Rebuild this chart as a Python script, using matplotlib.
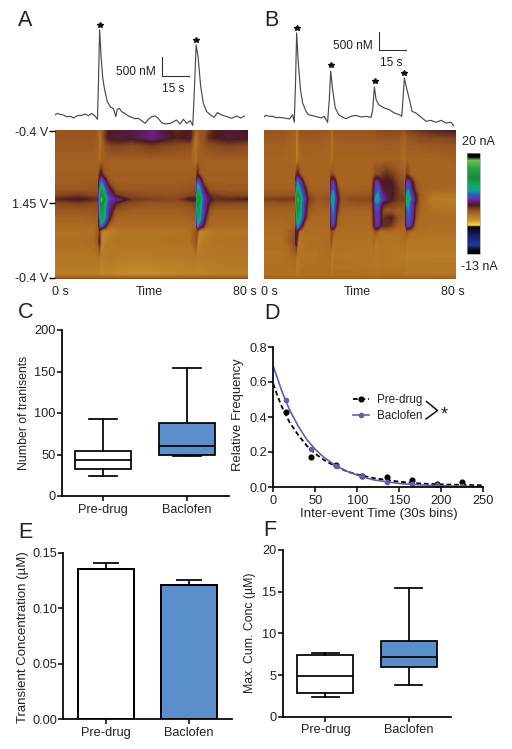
import numpy as np
import matplotlib
matplotlib.use('Agg')
import matplotlib.pyplot as plt
from matplotlib.colors import LinearSegmentedColormap, Normalize
from matplotlib.colorbar import ColorbarBase
from matplotlib.lines import Line2D

plt.rcParams['font.family'] = ['Liberation Sans', 'DejaVu Sans']
plt.rcParams['font.size'] = 9
plt.rcParams['text.color'] = '#222222'
plt.rcParams['axes.labelcolor'] = '#222222'
plt.rcParams['xtick.labelcolor'] = '#222222'
plt.rcParams['ytick.labelcolor'] = '#222222'

# dopamine traces (time in s, concentration in nM)
trace_a_t = [0, 1, 2.1, 3.5, 4.8, 6.5, 7.6, 9.3, 11.1, 12.4, 13.8, 15.2, 16.6, 17.6, 18, 18.5, 19.1, 19.8, 20.6, 21.7,
             23.1, 24.2, 25.2, 25.8, 26.7, 27.6, 29, 30.4, 31.8, 33.2, 34.5, 35.9, 37.3, 38.7, 40.1, 41.5, 42.8, 44.2,
             45.6, 47.7, 49.1, 50.4, 51.8, 53.2, 54.6, 56, 57.1, 57.6, 58.5, 59.3, 60.4, 61.5, 62.9, 64.5, 65.9, 67.3,
             69.1, 71.2, 73.2, 75.3, 77, 78.5]
trace_a_c = [53, 96, 70, 53, 9, 18, -26, 35, 44, 79, 35, 96, 26, -61, 886, 2289, 1587, 1017, 710, 403,
             254, 228, 9, 202, 228, 140, 96, 26, -9, -44, -35, -96, -167, -61, 9, 26, -35, -149,
             -184, -167, -123, -79, -184, -61, -167, -96, -219, 447, 1894, 1587, 798, 360, 140, 53, -9, 114,
             53, 9, -35, 26, -26, 26]
trace_b_t = [0, 0.8, 2.2, 3.6, 5, 6.4, 8.5, 10.6, 11.9, 12.6, 13.1, 13.6, 14.3, 15.2, 16.1, 17.5, 18.6, 20.3, 22.4, 23.8,
             25.1, 26.5, 27.2, 27.8, 28.6, 29.7, 31.1, 32.5, 34.2, 36.3, 38.3, 40.4, 42.5, 44.6, 45.3, 46, 46.7, 47.8,
             50.1, 52.2, 54.3, 56.4, 57.4, 57.9, 58.5, 59.4, 60.6, 61.7, 63.3, 65.4, 67.5, 69.6, 71.7, 73.8, 75.8, 77.9, 79]
trace_b_c = [0, 44, 18, 18, -18, -9, -26, -53, 61, -140, 807, 2210, 1421, 719, 368, 149, 61, 35, 0, -26,
             18, -140, 456, 1201, 719, 237, 61, 0, -44, 18, 44, 0, 18, -9, 193, 789, 456, 324,
             237, 193, 105, 61, 18, 456, 1026, 763, 456, 149, 105, 0, -114, -88, -140, -88, -158, -140, -228]
star_a_t = [18.5, 58.5]
star_a_c = [2420, 2026]
star_b_t = [13.6, 27.8, 46.1, 58.5]
star_b_c = [2350, 1359, 938, 1158]

# colour plots: current in nA, on scan position (0 top, 1 bottom) by time in s
scan_pos = [0, .05, .1, .2, .3, .35, .4, .44, .465, .49, .54, .59, .64, .68, .75, .85, .97, 1]
time_a = [0, 10, 16, 18, 18.4, 19.2, 20, 21, 22, 23.5, 25, 27, 32, 40, 50, 56, 58.6, 59, 59.8, 60.6, 61.5, 62.5, 64, 66, 72, 80]
current_a = [
    [1, 1, 1, .5, -1, .5, 1, 2, 2.8, 3, 3.2, 3.3, 3.4, 4.2, 2.5, 3, 0, .5, .8, .8, 1, 1, 2, 2.8, 3.2, 3],
    [1, 1, 1, .5, -1.5, 0, 1, 2.2, 3, 3.2, 3.3, 3.4, 3.3, 4.4, 2.8, 3.2, -1, 0, .6, 1, 1, 1.5, 2.5, 2.9, 3.3, 3.1],
    [.7, .7, .7, .4, -1.5, 0, .5, 1.2, 1.5, 1.8, 1.8, 1.8, 1.5, 2, 1.5, 1.3, -1, 0, .5, .7, .8, 1, 1.3, 1.5, 1.8, 1.5],
    [.5, .5, .5, .3, -.8, .2, .5, .5, .5, .5, .5, .5, .5, .5, .5, .5, -.5, .3, .5, .5, .5, .5, .5, .5, .5, .5],
    [.5, .5, .5, .5, 2, 3.2, 1.5, .7, .5, .5, .5, .5, .5, .5, .5, .5, .6, 3, 1.5, .7, .5, .5, .5, .5, .5, .5],
    [.6, .6, .7, .7, 4.5, 7, 5.5, 4, 1.5, .7, .6, .6, .6, .6, .6, .7, .8, 6.5, 5.5, 4, 1.5, .7, .6, .6, .6, .6],
    [.8, .8, 1, 1, 6, 10, 9, 5.5, 4.3, 2.5, 1, .9, .8, .8, .8, 1, 1.2, 9, 8.5, 5.5, 4.3, 2.5, 1, .9, .8, .8],
    [1.5, 2, 1.5, 1.6, 8, 12, 11, 8, 5, 4.3, 2.5, 1.8, 1.5, 1.2, 1.2, 1.5, 1.8, 11, 10.5, 7.5, 5, 4.2, 2.5, 2, 1.6, 1.6],
    [2.5, 3, 2.5, 2.5, 9, 17, 13, 9, 6, 5, 4.4, 4, 2, 1.8, 1.5, 3, 3, 15, 12, 8, 5.5, 4.6, 3.5, 2.5, 2.5, 2.8],
    [1.5, 1.8, 1.5, 1.6, 8, 13, 11, 8, 5, 4.4, 3, 2, 1.4, 1, 1, 1.5, 1.8, 12, 11, 7.5, 5, 4.3, 2.5, 1.6, 1.5, 1.5],
    [.8, .8, .9, 1, 7, 11, 10, 7, 4.6, 3.2, 1, .8, .6, .5, .5, .8, 1, 10.5, 10, 7, 5, 4, 1, .5, .5, .5],
    [.3, .3, .5, .5, 6, 10, 9.5, 6.5, 4.4, 1.5, .3, .2, .2, .2, .2, .4, .5, 10, 9.5, 6.5, 4.6, 2.5, .3, .2, .2, .2],
    [0, 0, 0, .3, 4.5, 7, 5, 3.5, .8, 0, 0, 0, 0, 0, 0, 0, .3, 7.5, 5.5, 4.4, 3, .8, 0, 0, 0, 0],
    [-.3, -.3, -.3, 1, 2, -1, -1.5, -1.5, -1.5, -1, -.8, -.6, -.5, -.5, -.4, -.3, 1, 1, -1.2, -1.5, -1.5, -1.2, -.9, -.6, -.5, -.4],
    [-.2, -.2, 0, .8, 3, -1, -1.5, -1, -.8, -.6, -.5, -.4, -.4, -.4, -.3, -.3, 1.2, -.8, -1.3, -1, -.8, -.6, -.5, -.4, -.3, -.3],
    [-.5, -.5, -.5, -.4, -.4, -1, -.8, -.7, -.6, -.6, -.7, -.8, -.8, -.8, -.7, -.7, -.5, -1, -.8, -.7, -.6, -.6, -.6, -.6, -.5, -.5],
    [-1, -1, -1, -1.1, -1.3, -1.5, -1.3, -1.3, -1.3, -1.4, -1.5, -1.6, -1.8, -1.8, -1.5, -1.3, -1.3, -1.5, -1.3, -1.2, -1.2, -1.2, -1.1, -1, -1, -1],
    [1.2] * 26,
]
time_b = [0, 8, 13, 13.4, 14.2, 15, 16, 17, 18.5, 22, 27.6, 28, 28.8, 29.6, 30.6, 32, 38, 44.8, 45.8, 46.6, 47.4, 48.4,
          49.5, 51, 53, 56, 58.9, 59.4, 60.2, 61, 62, 63.2, 65, 70, 80]
current_b = [
    [1, 1, .5, -1.5, .2, 1, 1, 1, 1, 1, .8, -.5, .5, 1, 1, 1, 1, 1, 1, 1.2, 1.5, 1.5, 1.5, 1.5, 1.5, 1.5, .8, 1.5, 1.8, 2, 2, 2, 2.2, 2.6, 3],
    [.7, .7, .3, -2, -.2, .6, .8, .8, .8, .8, .5, -1, 0, .6, .7, .7, .7, .7, .7, .8, 1, 1, 1, 1, 1, 1, .2, .8, 1, 1.2, 1.2, 1.2, 1.5, 1.6, 1.8],
    [.5, .5, .2, -2, -.5, .3, .5, .5, .5, .5, .3, -1, -.2, .3, .5, .5, .5, .5, .5, .5, .6, .6, .6, .6, .6, .6, 0, .5, .6, .6, .6, .6, .7, .8, 1],
    [.3, .3, .2, -1.5, -.5, 0, .3, .3, .3, .3, .2, -.8, 0, .3, .3, .3, .3, .3, .3, .3, .3, .3, .3, .3, .3, .3, -.2, .3, .3, .3, .3, .3, .3, .3, .4],
    [.3, .3, .3, 2, 3, 1.2, .4, .3, .3, .3, .3, 1.5, 1, .4, .3, .3, .3, .3, .8, 1.5, 1.5, 1.5, 2, 2.5, 2, 1, .5, 2, 1.5, .5, .3, .3, .3, .3, .3],
    [.3, .3, .4, 6, 7, 5.5, 3.5, .8, .3, .3, .3, 4.5, 5, 3.5, .5, .3, .3, .3, 2.5, 5, 5, 3.5, 2.8, 3, 3, 1.5, .8, 5, 5.5, 4, 2.5, .6, .3, .3, .3],
    [.5, .5, .5, 7, 9, 7, 5, 3.5, .5, .4, .4, 5, 6.5, 4.5, 2, .4, .4, .5, 3.2, 5.5, 6.5, 4.8, 3.2, 3.2, 3.2, 2, 1, 6, 7, 5, 3.5, 1.5, .4, .1, 0],
    [1, 1, 1, 9, 12, 9, 6, 4.4, 1.5, .6, .8, 6, 8.5, 5, 3, .8, 1, 1, 3.5, 6.5, 8, 5.5, 4.5, 3.5, 3, 2, 1.5, 7.5, 8.5, 6, 4.5, 2.8, .5, -.5, -.6],
    [1.8, 2, 2, 11, 16, 10, 7, 4.8, 2, .8, 1.2, 7, 9.5, 5.5, 3.5, 1, 1.5, 1.5, 3.8, 8, 9, 6, 4.8, 4, 3, 2, 2, 9.5, 9.5, 7, 5, 3, .5, -.8, -1],
    [1, 1, 1, 9.5, 13, 9.5, 6, 4.6, 1.5, .6, .8, 6, 8.5, 5, 3, .8, 1, 1, 3.5, 6.5, 7, 4.8, 3, 2.5, 2, 1.5, 1.5, 7.5, 8, 5.5, 4.6, 2.5, .3, -.6, -.8],
    [.4, .4, .4, 8, 11.5, 9.5, 6, 4.2, .8, .3, .3, 5.5, 7, 4.8, 2, .3, .3, .3, 3, 5.2, 5.5, 3.5, 1.5, 1, 1, .5, .8, 6, 7, 5.5, 4.6, 1.5, .2, -.3, -.4],
    [.2, .2, .2, 7, 10, 8.5, 5.5, 3, .2, .1, .1, 5, 6.5, 4.5, .8, .1, .1, .1, 2.8, 5, 5.5, 4, 2, 2.5, 2.8, 1, .6, 5.5, 6.5, 5, 4.5, 1, 0, 0, 0],
    [0, 0, .2, 6, 7.5, 5, 2.5, .3, 0, 0, 0, 4.5, 5, 3, .2, 0, 0, 0, 2.5, 5, 5, 3, 2.5, 2.5, 2, .5, .3, 5, 5.5, 4.8, 2.5, .2, 0, -.2, -.2],
    [-.1, -.1, 1, 3.5, 2, -.3, -.3, -.2, -.1, -.1, 0, 1, .8, -.2, -.2, -.2, -.2, -.2, .5, 1, .5, -.2, -.2, -.2, -.2, -.2, .2, 1, .2, -.2, -.2, -.2, -.3, -.3, -.3],
    [-.2, -.2, 1.5, 3.5, -.5, -.6, -.4, -.3, -.2, -.2, 0, 1.2, -.6, -.4, -.3, -.3, -.3, -.3, -.1, -.8, -.6, -.4, -.4, -.4, -.4, -.4, -.1, -.8, -.6, -.5, -.5, -.5, -.5, -.5, -.5],
    [-.3, -.3, .2, -.3, -.9, -.5, -.4, -.3, -.3, -.3, -.1, -.8, -.6, -.4, -.4, -.4, -.5, -.5, -.5, -.8, -.6, -.5, -.5, -.6, -.6, -.7, -.7, -1.2, -1, -.9, -.9, -.9, -.9, -.9, -.9],
    [-.2, -.2, -.2, -1, -.5, -.3, -.2, -.2, -.2, -.2, -.2, -.8, -.4, -.2, -.2, -.2, -.2, -.3, -.3, -.5, -.4, -.3, -.3, -.3, -.3, -.3, -.4, -.7, -.5, -.4, -.4, -.4, -.4, -.5, -.5],
    [.5] * 35,
]
current_stops = [-13, -11.8, -10, -7, -4.4, -4.1, -3.6, -2, -1, 0, 1.5, 3, 4.4, 5.5, 6.5, 7.6, 9.5, 12, 15, 17.7, 18.7, 20]
stop_colors = ['#050505', '#050510', '#1f3a9c', '#15205f', '#05051a', '#050505', '#ffd820', '#c89030', '#b88028', '#ad6a22', '#8a4a1e',
               '#4a1a1e', '#6a1f8a', '#5a3fb0', '#2060c0', '#10a0a0', '#10a860', '#1a8a3a', '#2aa04a', '#6fc050', '#050505', '#050505']

groups = ['Pre-drug', 'Baclofen']
# boxes as whisker low, q1, median, q3, whisker high
transients_box = [[24, 32, 43, 54, 93], [48, 49.5, 60, 88, 154]]
max_conc_box = [[2.4, 2.9, 4.9, 7.4, 7.7], [3.75, 6, 7.2, 9.1, 15.4]]
transient_conc = [.135, .121]
transient_err = [.006, .004]

bin_x = [15, 45, 75, 105, 135, 165, 195, 225]
pre_freq = [.43, .17, .125, .065, .057, .04, .018, .027]
bac_freq = [.5, .22, .12, .065, .03, .015, .01, .005]
fit_x = [0, 5, 10, 15, 20, 30, 40, 50, 60, 75, 90, 105, 120, 135, 150, 175, 200, 225, 250]
pre_fit = [.59, .52, .46, .41, .365, .295, .235, .19, .155, .115, .085, .065, .05, .04, .03, .02, .015, .012, .01]
bac_fit = [.69, .62, .55, .49, .435, .345, .27, .215, .17, .12, .085, .06, .04, .03, .02, .012, .007, .004, .002]

W, H = 512, 749
BLUE = '#5a8fcb'
LW = 1.25
fig = plt.figure(figsize=(W / 100, H / 100), dpi=100)


def box(l, t, r, b):
    return fig.add_axes([l / W, 1 - b / H, (r - l) / W, (b - t) / H])


def txt(x, y, s, **kw):
    kw.setdefault('ha', 'center')
    kw.setdefault('va', 'center')
    fig.text(x / W, 1 - y / H, s, **kw)


def seg(xs, ys, color='#333333', lw=0.8):
    fig.add_artist(Line2D([x / W for x in xs], [1 - y / H for y in ys], color=color, lw=lw))


def style(ax):
    ax.spines[['top', 'right']].set_visible(False)
    ax.spines[['left', 'bottom']].set_linewidth(LW)
    ax.tick_params(width=1.1, length=3.6, pad=2, labelsize=9.2)
    ax.tick_params(axis='y', pad=1)


# traces
for l, r, t, c, st, sc in [(55, 248, trace_a_t, trace_a_c, star_a_t, star_a_c),
                           (264, 456, trace_b_t, trace_b_c, star_b_t, star_b_c)]:
    ax = box(l, 20, r, 128)
    ax.plot(t, c, color='#4a4a4a', lw=0.85)
    ax.plot(st, sc, ls='none', marker='*', ms=4.2, color='#111111')
    ax.set_xlim(0, 80)
    ax.set_ylim((117 - 128) * 26.3, (117 - 20) * 26.3)
    ax.axis('off')

seg([162, 162, 189], [57.3, 76, 76])
txt(136, 72, '500 nM', fontsize=8.6)
txt(173, 89, '15 s', fontsize=8.6)
seg([379, 379, 406], [32.3, 50, 50])
txt(353, 46, '500 nM', fontsize=8.6)
txt(391, 63, '15 s', fontsize=8.6)

# colour plots
cmap = LinearSegmentedColormap.from_list(
    'fscv', [((v + 13) / 33, col) for v, col in zip(current_stops, stop_colors)], N=512)
norm = Normalize(-13, 20)
levels = np.linspace(-13, 20, 265)
for l, r, t, z, ticks in [(55, 248, time_a, current_a, True), (264, 456, time_b, current_b, False)]:
    ax = box(l, 130, r, 279)
    ax.contourf(t, scan_pos, np.array(z), levels=levels, cmap=cmap, norm=norm, antialiased=False)
    ax.set_xlim(0, 80)
    ax.set_ylim(1, 0)
    ax.spines[:].set_visible(False)
    ax.set_xticks([2.2, 39, 78.5], ['0 s', 'Time', '80 s'])
    ax.tick_params(axis='x', length=0, pad=5, labelsize=9)
    if ticks:
        ax.set_yticks([.01, .49, .99], ['-0.4 V', '1.45 V', '-0.4 V'])
        ax.tick_params(axis='y', length=4.2, width=1, pad=1, labelsize=9)
    else:
        ax.set_yticks([])

cax = box(467, 153, 480, 254)
cb = ColorbarBase(cax, cmap=cmap, norm=norm)
cb.set_ticks([])
cb.outline.set_edgecolor('#999999')
cb.outline.set_linewidth(0.5)
txt(478, 142, '20 nA')
txt(479, 267, '-13 nA')

# C
ax = box(62, 330, 229, 496)
stats = [dict(whislo=s[0], q1=s[1], med=s[2], q3=s[3], whishi=s[4], fliers=[]) for s in transients_box]
lp = dict(color='black', lw=LW)
art = ax.bxp(stats, positions=[1, 2], widths=.667, capwidths=.325, patch_artist=True, manage_ticks=False,
             boxprops=dict(edgecolor='black', lw=LW), medianprops=lp, whiskerprops=lp, capprops=lp)
art['boxes'][0].set_facecolor('white')
art['boxes'][1].set_facecolor(BLUE)
ax.set_xlim(.512, 2.5)
ax.set_ylim(0, 200)
ax.set_xticks([1, 2], groups)
ax.set_yticks([0, 50, 100, 150, 200])
ax.set_ylabel('Number of tranisents', fontsize=8.8)
ax.yaxis.set_label_coords(30 / W, 1 - 413 / H, transform=fig.transFigure)
style(ax)

# D
ax = box(273.3, 347, 483.3, 487)
ax.plot(fit_x, pre_fit, color='black', ls=(0, (2.6, 1.6)), lw=1.3)
ax.plot(bin_x, pre_freq, ls='none', marker='o', ms=3.4, color='black')
ax.plot(fit_x, bac_fit, color='#5a62b0', lw=1.2)
ax.plot(bin_x, bac_freq, ls='none', marker='o', ms=3, color='#5a62b0')
ax.set_xlim(0, 250)
ax.set_ylim(0, .8)
ax.set_xticks([0, 50, 100, 150, 200, 250])
ax.set_yticks([0, .2, .4, .6, .8], ['0.0', '0.2', '0.4', '0.6', '0.8'])
ax.set_xlabel('Inter-event Time (30s bins)', fontsize=9.5)
ax.set_ylabel('Relative Frequency', fontsize=9.4)
ax.xaxis.set_label_coords(379 / W, 1 - 508 / H, transform=fig.transFigure)
ax.yaxis.set_label_coords(244 / W, 1 - 415 / H, transform=fig.transFigure)
style(ax)
handles = [Line2D([], [], color='black', ls=(0, (2.6, 1.6)), lw=1.3, marker='o', ms=3.4),
           Line2D([], [], color='#5a62b0', lw=1.2, marker='o', ms=3)]
ax.legend(handles, groups, frameon=False, fontsize=8.4, loc='center left', bbox_to_anchor=(353 / W, 1 - 408 / H),
          bbox_transform=fig.transFigure, handlelength=1.4, handletextpad=.67, labelspacing=.35, borderpad=0, borderaxespad=0)
seg([426.5, 437.5, 426], [401.5, 410.5, 419], color='#111111', lw=1.1)
txt(444, 415, '*', fontsize=13)

# E
ax = box(63.3, 552.7, 231.7, 719.3)
ax.bar([1, 2], transient_conc, width=.672, color=['white', BLUE], edgecolor='black', lw=LW + .2)
ax.errorbar([1, 2], transient_conc, yerr=[[0, 0], transient_err], fmt='none', ecolor='black', elinewidth=LW, capsize=9.7, capthick=LW)
ax.set_xlim(.487, 2.51)
ax.set_ylim(0, .15)
ax.set_xticks([1, 2], groups)
ax.set_yticks([0, .05, .1, .15], ['0.00', '0.05', '0.10', '0.15'])
ax.set_ylabel('Transient Concentration (µM)', fontsize=9.5)
ax.yaxis.set_label_coords(29 / W, 1 - 637 / H, transform=fig.transFigure)
style(ax)

# F
ax = box(282.7, 550, 451, 716.7)
stats = [dict(whislo=s[0], q1=s[1], med=s[2], q3=s[3], whishi=s[4], fliers=[]) for s in max_conc_box]
art = ax.bxp(stats, positions=[1, 2], widths=.672, capwidths=.325, patch_artist=True, manage_ticks=False,
             boxprops=dict(edgecolor='black', lw=LW), medianprops=lp, whiskerprops=lp, capprops=lp)
art['boxes'][0].set_facecolor('white')
art['boxes'][1].set_facecolor(BLUE)
ax.set_xlim(.487, 2.51)
ax.set_ylim(0, 20)
ax.set_xticks([1, 2], groups)
ax.set_yticks([0, 5, 10, 15, 20])
ax.set_ylabel('Max. Cum. Conc (µM)', fontsize=8.8)
ax.yaxis.set_label_coords(256 / W, 1 - 633 / H, transform=fig.transFigure)
style(ax)

# panel letters
for x, y, s in [(25, 20, 'A'), (271, 20, 'B'), (26, 313, 'C'), (272, 314, 'D'), (25, 532, 'E'), (270, 531, 'F')]:
    txt(x, y, s, fontsize=15.5)

fig.savefig('out.png', dpi=100)
